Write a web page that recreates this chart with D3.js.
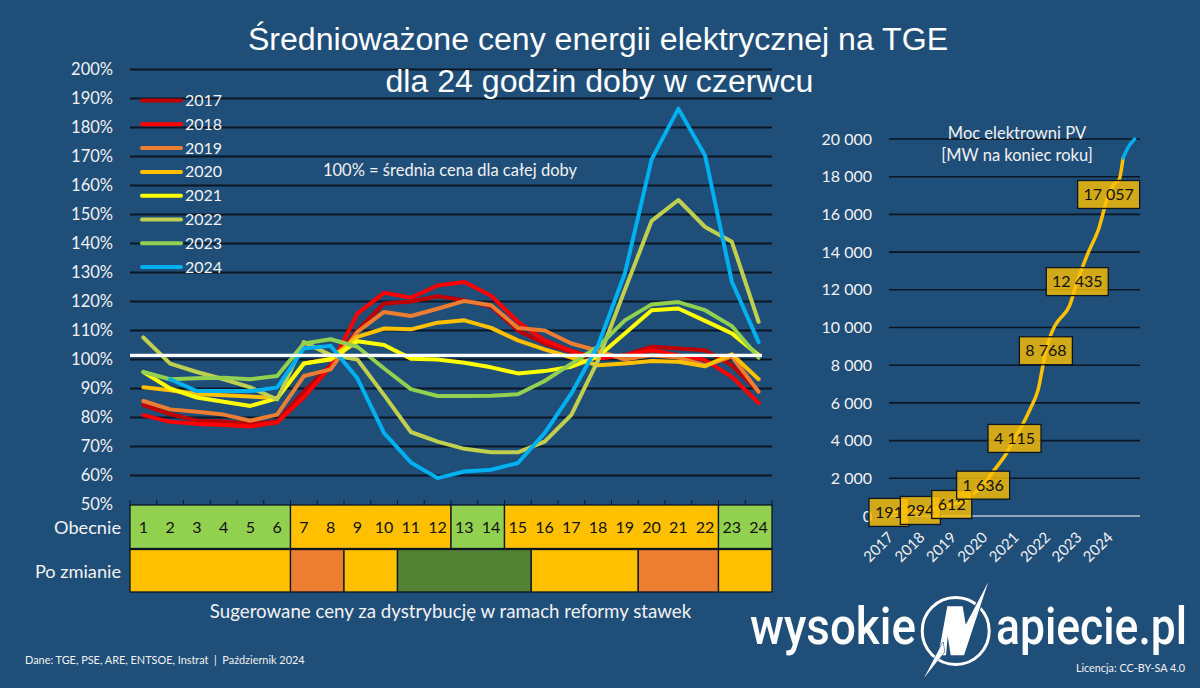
<!DOCTYPE html>
<html>
<head>
<meta charset="utf-8">
<script src="https://cdn.jsdelivr.net/npm/d3@7"></script>
<style>
  html, body { margin: 0; padding: 0; background: #1f4e79; }
  svg { display: block; }
  text { font-family: Lato, sans-serif; fill: #f2f2f2; }
  .title { font-family: "Liberation Sans", Arial, sans-serif; font-size: 32.1px; fill: #fff; }
</style>
</head>
<body>
<div id="container"></div>
<script>
const hours = d3.range(1, 25);
const years = ["2017", "2018", "2019", "2020", "2021", "2022", "2023", "2024"];
const yearColors = ["#c00000", "#ff0000", "#ed7d31", "#ffc000", "#ffff00", "#c0d04e", "#92d050", "#00b0f0"];

const y2017 = [84.3, 81.2, 78.9, 78.6, 77.8, 78.6, 88.9, 98, 110, 119.3, 120, 121.8, 120.4, 118.3, 110, 105.5, 102.6, 100.3, 101.5, 104.4, 103.8, 103.2, 98, 88.9];
const y2018 = [80.8, 78.5, 77.8, 77.4, 76.9, 78.3, 87, 97.5, 115.8, 123, 121.3, 125.5, 126.7, 122, 113, 106.6, 103, 100.3, 101.5, 103.2, 101.5, 99.8, 94, 85];
const y2019 = [85.7, 82.8, 82, 81, 78.9, 81, 94.3, 96.6, 109.5, 116.4, 115, 117.5, 120.2, 118.7, 110.9, 110, 105.5, 103, 100, 101.5, 100.7, 98, 101, 88.9];
const y2020 = [90.4, 89.4, 88.1, 87.7, 87.2, 86.6, 98.6, 100.3, 107.8, 110.7, 110.4, 112.7, 113.5, 110.9, 106.6, 103.5, 100.7, 98, 98.6, 99.5, 99.2, 97.7, 101.8, 93.2];
const y2021 = [95.7, 90, 86.9, 85.4, 84, 86.6, 98.6, 100, 106.3, 105, 100.3, 100, 98.9, 97.3, 95.2, 96, 97.5, 101, 109, 117, 117.6, 113.3, 109, 101.5];
const y2022 = [107.6, 98.6, 95.7, 93.2, 90.4, 86.2, 106, 101.5, 100, 87.7, 75, 71.7, 69.2, 68, 68, 71.7, 80.9, 99.8, 124, 147.8, 155, 145.7, 140.6, 113];
const y2023 = [95.7, 93.2, 93.5, 93.7, 93.2, 94.3, 105.5, 107, 104.4, 96.9, 89.8, 87.4, 87.4, 87.5, 88, 92.6, 98.6, 104.4, 113.5, 119, 119.8, 117, 111.5, 100.6];
const y2024 = [null, 93.2, 89.1, 89.1, 89.1, 90.3, 103.8, 104.7, 93.5, 74.6, 64.5, 59.1, 61.4, 62, 64.3, 74.6, 88.3, 105, 129.7, 169, 186.5, 170.3, 126.8, 106];
const priceSeries = [y2017, y2018, y2019, y2020, y2021, y2022, y2023, y2024];
const meanLevel = 101.4;
const priceTicks = d3.range(50, 201, 10);

// [first hour, last hour, colour]
const bandNow = [[1, 6, "#92d050"], [7, 12, "#ffc000"], [13, 14, "#92d050"], [15, 22, "#ffc000"], [23, 24, "#92d050"]];
const bandNew = [[1, 6, "#ffc000"], [7, 8, "#ed7d31"], [9, 10, "#ffc000"], [11, 15, "#548235"], [16, 19, "#ffc000"], [20, 22, "#ed7d31"], [23, 24, "#ffc000"]];

const pvTime = [2017, 2018, 2019, 2019.5, 2019.68, 2020, 2020.33, 2020.75, 2021, 2021.25, 2021.5, 2021.75, 2022, 2022.25, 2022.37, 2022.75, 2023, 2023.33, 2023.67, 2024, 2024.2, 2024.33, 2024.46];
const pvPower = [191, 294, 612, 900, 1167, 1636, 2387, 3342, 4115, 4828, 5676, 6684, 8768, 9973, 10308, 11140, 12435, 13900, 15172, 17057, 17666, 17825, 18992];
const pvLateTime = [2024.46, 2024.61, 2024.83];
const pvLatePower = [18992, 19522, 20000];
const pvLabelYears = [2017, 2018, 2019, 2020, 2021, 2022, 2023, 2024];
const pvLabelValues = [191, 294, 612, 1636, 4115, 8768, 12435, 17057];
const pvTicks = d3.range(0, 20001, 2000);

const width = 1200;
const height = 688;
const gridColor = "#0b1622";

const svg = d3.select("#container").append("svg")
    .attr("width", width)
    .attr("height", height);

svg.append("rect").attr("width", width).attr("height", height).attr("fill", "#1f4e79");

const spaced = v => d3.format(",")(v).replace(/,/g, " ");

// ---- price chart
const hourEdge = d3.scaleLinear().domain([0, 24]).range([130, 772]);
const x = d3.scalePoint().domain(hours).range([hourEdge(0.5), hourEdge(23.5)]);
const y = d3.scaleLinear().domain([50, 200]).range([504.5, 69.5]);

const yAxis = svg.append("g")
    .attr("transform", "translate(130,0)")
    .call(d3.axisLeft(y).tickValues(priceTicks).tickFormat(d => d + "%").tickSize(0).tickPadding(17));
yAxis.select(".domain").remove();
yAxis.selectAll("text").style("font-family", "Lato, sans-serif").style("font-size", "16.5px").style("fill", "#f2f2f2");

svg.append("g").selectAll("line")
    .data(priceTicks.filter(d => d > 50))
    .join("line")
    .attr("x1", 130).attr("x2", 772)
    .attr("y1", d => y(d)).attr("y2", d => y(d))
    .attr("stroke", gridColor).attr("stroke-width", 2);

const line = d3.line()
    .defined(d => d.v !== null)
    .x(d => x(d.h))
    .y(d => y(d.v));

// later years go over earlier ones
svg.append("g").selectAll("path")
    .data(priceSeries.map((s, i) => ({ color: yearColors[i], values: s.map((v, j) => ({ h: hours[j], v })) })))
    .join("path")
    .attr("d", d => line(d.values))
    .attr("fill", "none")
    .attr("stroke", d => d.color)
    .attr("stroke-width", 4)
    .attr("stroke-linecap", "round")
    .attr("stroke-linejoin", "round");

svg.append("line")
    .attr("x1", 130).attr("x2", 762)
    .attr("y1", y(meanLevel)).attr("y2", y(meanLevel))
    .attr("stroke", "#fff").attr("stroke-width", 3.2);

// legend
const legend = svg.append("g").selectAll("g")
    .data(years)
    .join("g")
    .attr("transform", (d, i) => `translate(0,${100.5 + i * 23.8})`);
legend.append("line")
    .attr("x1", 142).attr("x2", 181)
    .attr("stroke", (d, i) => yearColors[i])
    .attr("stroke-width", 4).attr("stroke-linecap", "round");
legend.append("text")
    .attr("x", 185).attr("y", 5.5)
    .style("font-size", "16px")
    .text(d => d);

// hour bands
svg.append("g").selectAll("line")
    .data(d3.range(0, 25))
    .join("line")
    .attr("x1", d => hourEdge(d)).attr("x2", d => hourEdge(d))
    .attr("y1", 500).attr("y2", 505)
    .attr("stroke", gridColor).attr("stroke-width", 1);

function drawBand(bands, top, bottom) {
    svg.append("g").selectAll("rect")
        .data(bands)
        .join("rect")
        .attr("x", d => hourEdge(d[0] - 1))
        .attr("width", d => hourEdge(d[1]) - hourEdge(d[0] - 1))
        .attr("y", top)
        .attr("height", bottom - top)
        .attr("fill", d => d[2])
        .attr("stroke", gridColor)
        .attr("stroke-width", 1.3);
}
drawBand(bandNow, 505, 548.5);
drawBand(bandNew, 549.5, 592);

svg.append("g").selectAll("text")
    .data(hours)
    .join("text")
    .attr("x", d => x(d))
    .attr("y", 532.5)
    .attr("text-anchor", "middle")
    .style("font-size", "16px")
    .style("fill", "#111")
    .text(d => d);

svg.append("text").attr("x", 121).attr("y", 534).attr("text-anchor", "end").style("font-size", "18.2px").text("Obecnie");
svg.append("text").attr("x", 121).attr("y", 578).attr("text-anchor", "end").style("font-size", "18.2px").text("Po zmianie");
svg.append("text").attr("x", 450.5).attr("y", 618).attr("text-anchor", "middle").style("font-size", "18.7px").text("Sugerowane ceny za dystrybucję w ramach reformy stawek");
svg.append("text").attr("x", 450).attr("y", 176).attr("text-anchor", "middle").style("font-size", "16.5px").text("100% = średnia cena dla całej doby");

// ---- PV chart
const px = d3.scaleLinear().domain([2017, 2025]).range([889, 1140]);
const py = d3.scaleLinear().domain([0, 20000]).range([516, 139]);

const pvAxis = svg.append("g")
    .attr("transform", "translate(889,0)")
    .call(d3.axisLeft(py).tickValues(pvTicks).tickFormat(spaced).tickSize(0).tickPadding(17));
pvAxis.select(".domain").remove();
pvAxis.selectAll("text").style("font-family", "Lato, sans-serif").style("font-size", "16px").style("fill", "#f2f2f2");

svg.append("g").selectAll("line")
    .data(pvTicks)
    .join("line")
    .attr("x1", 889).attr("x2", 1140)
    .attr("y1", d => py(d)).attr("y2", d => py(d))
    .attr("stroke", d => d === 0 ? "#b9c4cf" : gridColor)
    .attr("stroke-width", 1.6);

svg.append("g").selectAll("text")
    .data(pvLabelYears)
    .join("text")
    .attr("text-anchor", "end")
    .attr("transform", d => `translate(${px(d) - 1},${532}) rotate(-45)`)
    .attr("dy", "0.6em")
    .style("font-size", "15px")
    .text(d => d);

const pvLine = d3.line().x(d => px(d[0])).y(d => py(d[1])).curve(d3.curveMonotoneX);
svg.append("path")
    .attr("d", pvLine(d3.zip(pvTime, pvPower)))
    .attr("fill", "none").attr("stroke", "#ffc000").attr("stroke-width", 3.5).attr("stroke-linecap", "round");
svg.append("path")
    .attr("d", pvLine(d3.zip(pvLateTime, pvLatePower)))
    .attr("fill", "none").attr("stroke", "#00b0f0").attr("stroke-width", 3.5).attr("stroke-linecap", "round");

const pvLabels = svg.append("g").selectAll("g")
    .data(pvLabelYears.map((t, i) => ({ t, v: pvLabelValues[i] })))
    .join("g")
    .attr("transform", d => `translate(${px(d.t)},${py(d.v)})`);
pvLabels.append("rect")
    .attr("x", d => d.v < 1000 ? -20 : (d.v < 10000 ? -26.5 : -31))
    .attr("width", d => d.v < 1000 ? 40 : (d.v < 10000 ? 53 : 62))
    .attr("y", -14).attr("height", 28)
    .attr("fill", "#ffc000").attr("fill-opacity", 0.8)
    .attr("stroke", gridColor).attr("stroke-width", 1.3);
pvLabels.append("text")
    .attr("text-anchor", "middle")
    .attr("y", 5.5)
    .style("font-size", "16px")
    .style("fill", "#111")
    .text(d => spaced(d.v));

svg.append("text").attr("x", 1017).attr("y", 139).attr("text-anchor", "middle").style("font-size", "16.5px").text("Moc elektrowni PV");
svg.append("text").attr("x", 1017).attr("y", 161).attr("text-anchor", "middle").style("font-size", "16.5px").text("[MW na koniec roku]");

// ---- title and footer
svg.append("text").attr("class", "title").attr("x", 598).attr("y", 50).attr("text-anchor", "middle").text("Średnioważone ceny energii elektrycznej na TGE");
svg.append("text").attr("class", "title").attr("x", 599.5).attr("y", 92).attr("text-anchor", "middle").text("dla 24 godzin doby w czerwcu");

svg.append("text").attr("x", 25).attr("y", 664).style("font-size", "10.9px").attr("xml:space", "preserve").text("Dane: TGE, PSE, ARE, ENTSOE, Instrat  |  Październik 2024");
svg.append("text").attr("x", 1185).attr("y", 672).attr("text-anchor", "end").style("font-size", "10.8px").text("Licencja: CC-BY-SA 4.0");

// logo
const logo = svg.append("g");
logo.append("text")
    .attr("transform", "translate(750,644) scale(0.88,1)")
    .style("font-family", "Roboto, sans-serif").style("font-weight", 500).style("font-size", "52px").style("fill", "#fff")
    .text("wysokie");
logo.append("text")
    .attr("transform", "translate(996,644) scale(0.855,1)")
    .style("font-family", "Roboto, sans-serif").style("font-weight", 500).style("font-size", "52px").style("fill", "#fff")
    .text("apiecie.pl");
logo.append("circle").attr("cx", 955.7).attr("cy", 631).attr("r", 33.5)
    .attr("fill", "none").attr("stroke", "#fff").attr("stroke-width", 3);
logo.append("path").attr("fill", "#fff")
    .attr("stroke", "#1f4e79").attr("stroke-width", 2).attr("paint-order", "stroke")
    .attr("d", "M988.3,582 L964,655.3 L950.7,655.3 L947.7,636.3 L946,655.3 L938.3,655.3 L947.3,606.3 L962.7,606.3 L965.7,624.7 Z");
logo.append("path").attr("fill", "#fff")
    .attr("stroke", "#1f4e79").attr("stroke-width", 1).attr("paint-order", "stroke")
    .attr("d", "M924,678 L943,642 L944.5,652 Z");
</script>
</body>
</html>
